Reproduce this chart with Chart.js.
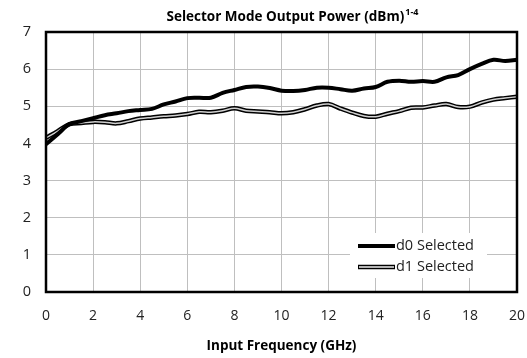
<!DOCTYPE html>
<html>
<head>
<meta charset="utf-8">
<script src="https://cdn.jsdelivr.net/npm/chart.js@4"></script>
<style>
  body { margin: 0; background: #fff; }
  canvas { display: block; }
</style>
</head>
<body>
<canvas id="power-chart" width="527" height="358"></canvas>
<script>
// frequency points (GHz)
const freqs = [0, 0.5, 1, 1.5, 2, 2.5, 3, 3.5, 4, 4.5, 5, 5.5, 6, 6.5, 7, 7.5, 8, 8.5, 9, 9.5,
    10, 10.5, 11, 11.5, 12, 12.5, 13, 13.5, 14, 14.5, 15, 15.5, 16, 16.5, 17, 17.5, 18, 18.5, 19, 19.5, 20];

// output power, d0 selected (dBm)
const d0Power = [3.98, 4.25, 4.52, 4.60, 4.68, 4.76, 4.81, 4.87, 4.90, 4.93, 5.05, 5.13, 5.22, 5.23, 5.23, 5.36, 5.44, 5.52, 5.53, 5.49,
    5.42, 5.41, 5.44, 5.50, 5.50, 5.46, 5.42, 5.48, 5.52, 5.66, 5.69, 5.66, 5.68, 5.66, 5.78, 5.84, 6.00, 6.14, 6.25, 6.22, 6.25];

// output power, d1 selected (dBm)
const d1Power = [4.15, 4.33, 4.52, 4.55, 4.58, 4.57, 4.54, 4.60, 4.67, 4.70, 4.73, 4.75, 4.79, 4.85, 4.84, 4.88, 4.95, 4.88, 4.86, 4.84,
    4.81, 4.84, 4.92, 5.02, 5.06, 4.94, 4.83, 4.74, 4.72, 4.80, 4.87, 4.96, 4.97, 5.02, 5.06, 4.98, 4.99, 5.10, 5.18, 5.22, 5.26];

const xTicks = [0, 2, 4, 6, 8, 10, 12, 14, 16, 18, 20];
const yTicks = [0, 1, 2, 3, 4, 5, 6, 7];

const FONT = '"Open Sans", "Liberation Sans", sans-serif';

function toPoints(values) {
    return freqs.map((f, i) => ({ x: f, y: values[i] }));
}

// title with superscript + frame + legend box
const decorPlugin = {
    id: 'decor',
    afterDraw(chart) {
        const ctx = chart.ctx;
        const area = chart.chartArea;
        ctx.save();

        // plot frame
        ctx.strokeStyle = '#000';
        ctx.lineWidth = 2.5;
        ctx.strokeRect(area.left, area.top, area.right - area.left, area.bottom - area.top);

        // title
        const main = 'Selector Mode Output Power (dBm)';
        const sup = '1-4';
        ctx.fillStyle = '#000';
        ctx.textBaseline = 'alphabetic';
        ctx.font = 'bold 13.5px ' + FONT;
        const wMain = ctx.measureText(main).width;
        ctx.font = 'bold 9px ' + FONT;
        const wSup = ctx.measureText(sup).width;
        const x0 = 292 - (wMain + wSup) / 2;
        ctx.font = 'bold 13.5px ' + FONT;
        ctx.textAlign = 'left';
        ctx.fillText(main, x0, 21);
        ctx.font = 'bold 9px ' + FONT;
        ctx.fillText(sup, x0 + wMain + 1, 15);

        ctx.restore();
    },
    afterDatasetsDraw(chart) {
        const ctx = chart.ctx;
        ctx.save();
        // legend box
        ctx.fillStyle = '#fff';
        ctx.fillRect(350, 233, 137, 45);

        ctx.lineCap = 'butt';
        ctx.strokeStyle = '#000';
        ctx.lineWidth = 4;
        ctx.beginPath();
        ctx.moveTo(358, 246);
        ctx.lineTo(395, 246);
        ctx.stroke();

        ctx.lineWidth = 4.5;
        ctx.beginPath();
        ctx.moveTo(358, 267);
        ctx.lineTo(395, 267);
        ctx.stroke();
        ctx.strokeStyle = '#b4b4b4';
        ctx.lineWidth = 1.8;
        ctx.beginPath();
        ctx.moveTo(359, 267);
        ctx.lineTo(394, 267);
        ctx.stroke();

        ctx.fillStyle = '#222';
        ctx.font = '14.5px ' + FONT;
        ctx.textAlign = 'left';
        ctx.textBaseline = 'middle';
        ctx.fillText('d0 Selected', 396, 246);
        ctx.fillText('d1 Selected', 396, 267);
        ctx.restore();
    }
};

function createPowerChart() {
    const ctx = document.getElementById('power-chart').getContext('2d');
    new Chart(ctx, {
        type: 'line',
        data: {
            datasets: [
                {
                    label: 'd0 Selected',
                    data: toPoints(d0Power),
                    borderColor: '#000',
                    borderWidth: 4,
                    order: 0
                },
                {
                    label: 'd1 Selected',
                    data: toPoints(d1Power),
                    borderColor: '#d0d0d0',
                    borderWidth: 1.5,
                    order: 1
                },
                {
                    label: 'd1 outline',
                    data: toPoints(d1Power),
                    borderColor: '#000',
                    borderWidth: 4.5,
                    order: 2
                }
            ]
        },
        options: {
            responsive: false,
            animation: false,
            layout: { padding: { top: 32, right: 10, left: 0, bottom: 0 } },
            elements: {
                point: { radius: 0 },
                line: { tension: 0.35, fill: false }
            },
            plugins: {
                legend: { display: false },
                title: { display: false },
                tooltip: { enabled: false }
            },
            scales: {
                x: {
                    type: 'linear',
                    min: 0,
                    max: 20,
                    afterBuildTicks: function(scale) {
                        scale.ticks = xTicks.map(v => ({ value: v }));
                    },
                    afterFit: function(scale) {
                        scale.height = 66;
                        scale.paddingLeft = 0;
                        scale.paddingRight = 0;
                    },
                    grid: { color: '#bfbfbf', lineWidth: 1, drawTicks: false },
                    border: { display: false },
                    ticks: {
                        padding: 16,
                        color: '#222',
                        font: { family: FONT, size: 14 }
                    },
                    title: {
                        display: true,
                        text: 'Input Frequency (GHz)',
                        color: '#000',
                        font: { family: FONT, size: 13.5, weight: 'bold' },
                        padding: { top: 10 }
                    }
                },
                y: {
                    min: 0,
                    max: 7,
                    afterBuildTicks: function(scale) {
                        scale.ticks = yTicks.map(v => ({ value: v }));
                    },
                    afterFit: function(scale) {
                        scale.width = 46;
                        scale.paddingTop = 0;
                        scale.paddingBottom = 0;
                    },
                    grid: { color: '#bfbfbf', lineWidth: 1, drawTicks: false },
                    border: { display: false },
                    ticks: {
                        padding: 15,
                        color: '#222',
                        font: { family: FONT, size: 14.5 }
                    }
                }
            }
        },
        plugins: [decorPlugin]
    });
}

document.addEventListener('DOMContentLoaded', createPowerChart);
</script>
</body>
</html>
